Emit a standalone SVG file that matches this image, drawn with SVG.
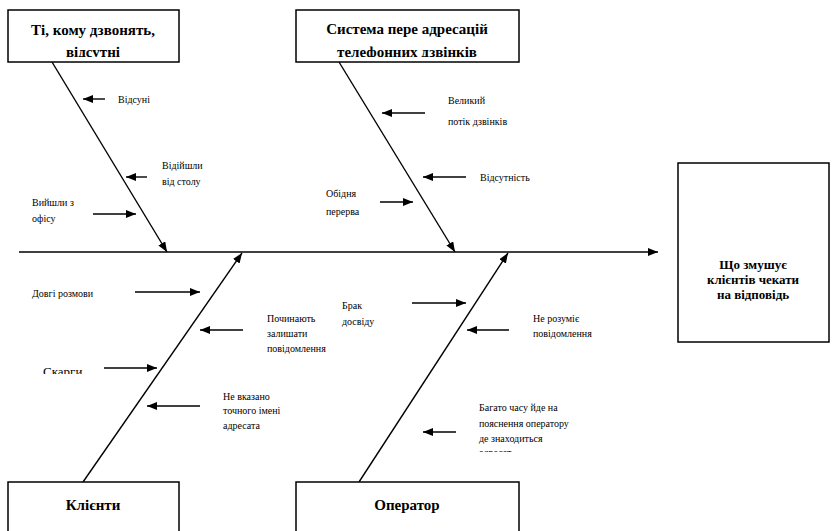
<svg xmlns="http://www.w3.org/2000/svg" width="832" height="531" viewBox="0 0 832 531" font-family="'Liberation Serif', 'Times New Roman', Tinos, 'DejaVu Serif', serif">
<style>
.box{fill:#fff;stroke:#000;stroke-width:1.5}
.ln{stroke:#000;stroke-width:1.4;fill:none}
.sm{stroke:#000;stroke-width:1.4;fill:none}
.t{font-size:10px;fill:#000}
.h{font-size:15px;font-weight:bold;fill:#000;text-anchor:middle}
.g{font-size:13px;font-weight:bold;fill:#000;text-anchor:middle}
</style>
<defs>
<marker id="ah" viewBox="0 0 10 8" refX="10" refY="4" markerWidth="10" markerHeight="8" markerUnits="userSpaceOnUse" orient="auto">
<path d="M0,0 L10,4 L0,8 z" fill="#000"/>
</marker>
<clipPath id="c1"><rect x="8" y="10" width="171" height="47"/></clipPath>
<clipPath id="c2"><rect x="296" y="10" width="223" height="47"/></clipPath>
<clipPath id="c3"><rect x="30" y="355" width="70" height="19"/></clipPath>
<clipPath id="c4"><rect x="470" y="395" width="160" height="57"/></clipPath>
</defs>
<rect width="832" height="531" fill="#fff"/>
<g id="connectors">
<line class="ln" x1="19" y1="252" x2="658" y2="252" marker-end="url(#ah)"/>
<line class="ln" x1="52" y1="62" x2="167" y2="252" marker-end="url(#ah)"/>
<line class="ln" x1="339" y1="62" x2="455" y2="252" marker-end="url(#ah)"/>
<line class="ln" x1="83" y1="482" x2="242" y2="253" marker-end="url(#ah)"/>
<line class="ln" x1="359" y1="482" x2="508" y2="253" marker-end="url(#ah)"/>
<line class="sm" x1="105" y1="99" x2="83" y2="99" marker-end="url(#ah)"/>
<line class="sm" x1="147" y1="177" x2="126" y2="177" marker-end="url(#ah)"/>
<line class="sm" x1="93" y1="214" x2="136" y2="214" marker-end="url(#ah)"/>
<line class="sm" x1="425" y1="113" x2="382" y2="113" marker-end="url(#ah)"/>
<line class="sm" x1="466" y1="177" x2="423" y2="177" marker-end="url(#ah)"/>
<line class="sm" x1="380" y1="202" x2="413" y2="202" marker-end="url(#ah)"/>
<line class="sm" x1="135" y1="292" x2="200" y2="292" marker-end="url(#ah)"/>
<line class="sm" x1="243" y1="330" x2="200" y2="330" marker-end="url(#ah)"/>
<line class="sm" x1="104" y1="368" x2="157" y2="368" marker-end="url(#ah)"/>
<line class="sm" x1="200" y1="406" x2="147" y2="406" marker-end="url(#ah)"/>
<line class="sm" x1="412" y1="303" x2="466" y2="303" marker-end="url(#ah)"/>
<line class="sm" x1="509" y1="330" x2="467" y2="330" marker-end="url(#ah)"/>
<line class="sm" x1="456" y1="432" x2="423" y2="432" marker-end="url(#ah)"/>
</g>
<g id="node-absent">
<rect class="box" x="8" y="10" width="171" height="52"/>
<g clip-path="url(#c1)">
<text class="h" x="93" y="35">Ті, кому дзвонять,</text>
<text class="h" x="93" y="57">відсутні</text>
</g>
</g>
<g id="node-system">
<rect class="box" x="296" y="10" width="223" height="52"/>
<g clip-path="url(#c2)">
<text class="h" x="407" y="34">Система пере адресацій</text>
<text class="h" x="407" y="57">телефонних дзвінків</text>
</g>
</g>
<g id="node-effect">
<rect class="box" x="678" y="163" width="151" height="179"/>
<text class="g" x="753" y="269">Що змушує</text>
<text class="g" x="753" y="284">клієнтів чекати</text>
<text class="g" x="753" y="299">на відповідь</text>
</g>
<g id="node-clients">
<rect class="box" x="8" y="482" width="171" height="60"/>
<text class="h" x="93" y="510">Клієнти</text>
</g>
<g id="node-operator">
<rect class="box" x="296" y="482" width="223" height="60"/>
<text class="h" x="407" y="510">Оператор</text>
</g>
<g id="labels">
<text class="t" x="118" y="103">Відсуні</text>
<text class="t" x="162" y="169">Відійшли</text>
<text class="t" x="162" y="185">від столу</text>
<text class="t" x="32" y="206">Вийшли з</text>
<text class="t" x="32" y="222">офісу</text>
<text class="t" x="448" y="104">Великий</text>
<text class="t" x="448" y="125">потік дзвінків</text>
<text class="t" x="480" y="181">Відсутність</text>
<text class="t" x="326" y="197">Обідня</text>
<text class="t" x="326" y="215">перерва</text>
<text class="t" x="32" y="297">Довгі розмови</text>
<text class="t" x="267" y="322">Починають</text>
<text class="t" x="267" y="337">залишати</text>
<text class="t" x="267" y="352">повідомлення</text>
<g clip-path="url(#c3)"><text class="t" style="font-size:13px" x="43" y="376">Скарги</text></g>
<text class="t" x="223" y="400">Не вказано</text>
<text class="t" x="223" y="414">точного імені</text>
<text class="t" x="223" y="429">адресата</text>
<text class="t" x="342" y="309">Брак</text>
<text class="t" x="342" y="325">досвіду</text>
<text class="t" x="533" y="322">Не розуміє</text>
<text class="t" x="533" y="337">повідомлення</text>
<g clip-path="url(#c4)">
<text class="t" x="479" y="411">Багато часу йде на</text>
<text class="t" x="479" y="427">пояснення оператору</text>
<text class="t" x="479" y="442">де знаходиться</text>
<text class="t" x="479" y="456">адресат</text>
</g>
</g>
</svg>
